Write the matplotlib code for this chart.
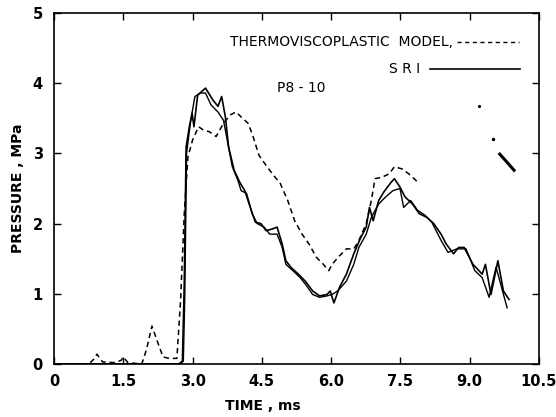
import matplotlib
matplotlib.use("Agg")
import matplotlib.pyplot as plt
from matplotlib.lines import Line2D

# Thermoviscoplastic model (dashed)
tvp_t = [0.0, 0.75, 0.85, 0.93, 1.05, 1.3, 1.45, 1.5, 1.6, 1.9, 2.0, 2.12, 2.25, 2.36, 2.5, 2.66,
         2.74, 2.82, 2.9, 3.0, 3.13, 3.24, 3.36, 3.51, 3.67, 3.82, 3.94, 4.05, 4.2, 4.29, 4.44,
         4.59, 4.75, 4.9, 5.06, 5.21, 5.37, 5.52, 5.68, 5.83, 5.95, 6.02, 6.18, 6.33, 6.49, 6.6,
         6.76, 6.87, 6.95, 7.1, 7.26, 7.37, 7.53, 7.68, 7.91]
tvp_p = [0.0, 0.0, 0.06, 0.14, 0.03, 0.02, 0.05, 0.1, 0.02, 0.0, 0.2, 0.54, 0.3, 0.1, 0.08, 0.08,
         0.9, 2.14, 2.95, 3.19, 3.38, 3.33, 3.31, 3.24, 3.43, 3.55, 3.59, 3.52, 3.43, 3.28, 2.97,
         2.83, 2.69, 2.57, 2.33, 2.04, 1.85, 1.71, 1.52, 1.42, 1.33, 1.42, 1.54, 1.64, 1.64, 1.76,
         2.0, 2.33, 2.64, 2.66, 2.71, 2.81, 2.78, 2.71, 2.57]

# SRI measured trace A (solid)
sri_a_t = [0.0, 2.7, 2.78, 2.82, 2.86, 2.93, 2.99, 3.03, 3.11, 3.28, 3.44, 3.55, 3.63, 3.71, 3.78,
           3.9, 4.02, 4.13, 4.25, 4.36, 4.48, 4.59, 4.71, 4.83, 4.94, 5.02, 5.14, 5.29, 5.44,
           5.6, 5.75, 5.91, 5.98, 6.06, 6.18, 6.33, 6.49, 6.64, 6.76, 6.83, 6.91, 7.03, 7.14,
           7.3, 7.37, 7.49, 7.6, 7.76, 7.91, 8.07, 8.22, 8.38, 8.49, 8.65, 8.76, 8.88, 9.07,
           9.27, 9.34, 9.46, 9.61, 9.73, 9.85]
sri_a_p = [0.0, 0.0, 0.04, 1.14, 3.09, 3.38, 3.57, 3.38, 3.83, 3.93, 3.76, 3.67, 3.81, 3.52, 3.09,
           2.76, 2.59, 2.47, 2.23, 2.02, 2.0, 1.9, 1.92, 1.95, 1.71, 1.47, 1.37, 1.28, 1.18,
           1.04, 0.97, 0.99, 1.04, 0.87, 1.09, 1.28, 1.57, 1.8, 1.95, 2.23, 2.04, 2.33, 2.45,
           2.59, 2.64, 2.52, 2.38, 2.28, 2.14, 2.09, 2.0, 1.85, 1.71, 1.57, 1.66, 1.66, 1.42,
           1.28, 1.42, 0.99, 1.47, 1.04, 0.92]

# SRI measured trace B (solid)
sri_b_t = [0.0, 2.73, 2.8, 2.83, 2.87, 2.96, 3.05, 3.17, 3.28, 3.4, 3.55, 3.67, 3.75, 3.86, 3.98,
           4.05, 4.17, 4.29, 4.4, 4.55, 4.67, 4.83, 4.94, 5.02, 5.17, 5.33, 5.44, 5.6, 5.75,
           5.91, 6.02, 6.14, 6.33, 6.49, 6.6, 6.76, 6.87, 7.03, 7.18, 7.34, 7.49, 7.57, 7.72,
           7.87, 8.03, 8.18, 8.38, 8.53, 8.72, 8.92, 9.11, 9.27, 9.42, 9.57, 9.69, 9.81]
sri_b_p = [0.0, 0.0, 0.04, 0.9, 3.0, 3.47, 3.81, 3.86, 3.86, 3.69, 3.59, 3.47, 3.19, 2.81, 2.62,
           2.47, 2.43, 2.14, 2.0, 1.95, 1.85, 1.85, 1.66, 1.42, 1.33, 1.23, 1.14, 0.99, 0.95,
           0.97, 0.99, 1.04, 1.18, 1.42, 1.66, 1.85, 2.09, 2.28, 2.38, 2.47, 2.5, 2.23, 2.33,
           2.19, 2.12, 2.02, 1.76, 1.59, 1.64, 1.64, 1.33, 1.23, 0.95, 1.38, 1.09, 0.8]

# Scan specks in the upper right
speck_t = [9.65, 9.8, 9.96]
speck_p = [2.99, 2.88, 2.76]

x_ticks = [0, 1.5, 3.0, 4.5, 6.0, 7.5, 9.0, 10.5]
x_tick_labels = ["0", "1.5", "3.0", "4.5", "6.0", "7.5", "9.0", "10.5"]
y_ticks = [0, 1, 2, 3, 4, 5]
y_tick_labels = ["0", "1", "2", "3", "4", "5"]

plt.rcParams['font.family'] = ['DejaVu Sans']

fig = plt.figure(figsize=(5.56, 4.17), dpi=100)
# axes spans x 54..539 px, y 13..364 px
ax = fig.add_axes([54 / 556, (417 - 364) / 417, 485 / 556, 351 / 417])

ax.plot(tvp_t, tvp_p, color='black', lw=1.1, dashes=(3.5, 2.5))
ax.plot(sri_a_t, sri_a_p, color='black', lw=1.2)
ax.plot(sri_b_t, sri_b_p, color='black', lw=1.0)
ax.plot(speck_t, speck_p, color='black', lw=2.2)
ax.plot([9.2], [3.67], 'k.', ms=2.5)
ax.plot([9.5], [3.2], 'k.', ms=3)

ax.set_xlim(0, 10.5)
ax.set_ylim(0, 5)
ax.set_xticks(x_ticks)
ax.set_xticklabels(x_tick_labels)
ax.set_yticks(y_ticks)
ax.set_yticklabels(y_tick_labels)
ax.tick_params(direction='in', top=True, right=True, length=5, width=1,
               labelsize=10.5)
ax.tick_params(axis='x', pad=7)
ax.tick_params(axis='y', pad=8)
for lab in ax.get_xticklabels() + ax.get_yticklabels():
    lab.set_fontweight('bold')
for s in ax.spines.values():
    s.set_linewidth(1.2)

fig.text(263 / 556, (417 - 406) / 417, "TIME , ms", ha='center', va='center',
         fontsize=10, fontweight='bold')
fig.text(18 / 556, (417 - 188) / 417, "PRESSURE , MPa", ha='center', va='center',
         rotation=90, fontsize=10, fontweight='bold')

# Legend drawn manually
ax.text(0.823, 0.917, "THERMOVISCOPLASTIC  MODEL,", transform=ax.transAxes,
        ha='right', va='center', fontsize=10)
ax.add_line(Line2D([0.83, 0.958], [0.917, 0.917], transform=ax.transAxes,
                   color='black', lw=1.0, dashes=(3, 2.5)))
ax.text(0.755, 0.84, "S R I", transform=ax.transAxes,
        ha='right', va='center', fontsize=10)
ax.add_line(Line2D([0.776, 0.96], [0.84, 0.84], transform=ax.transAxes,
                   color='black', lw=1.2))
ax.text(0.509, 0.786, "P8 - 10", transform=ax.transAxes,
        ha='center', va='center', fontsize=10)

fig.savefig("out.png", dpi=100)
